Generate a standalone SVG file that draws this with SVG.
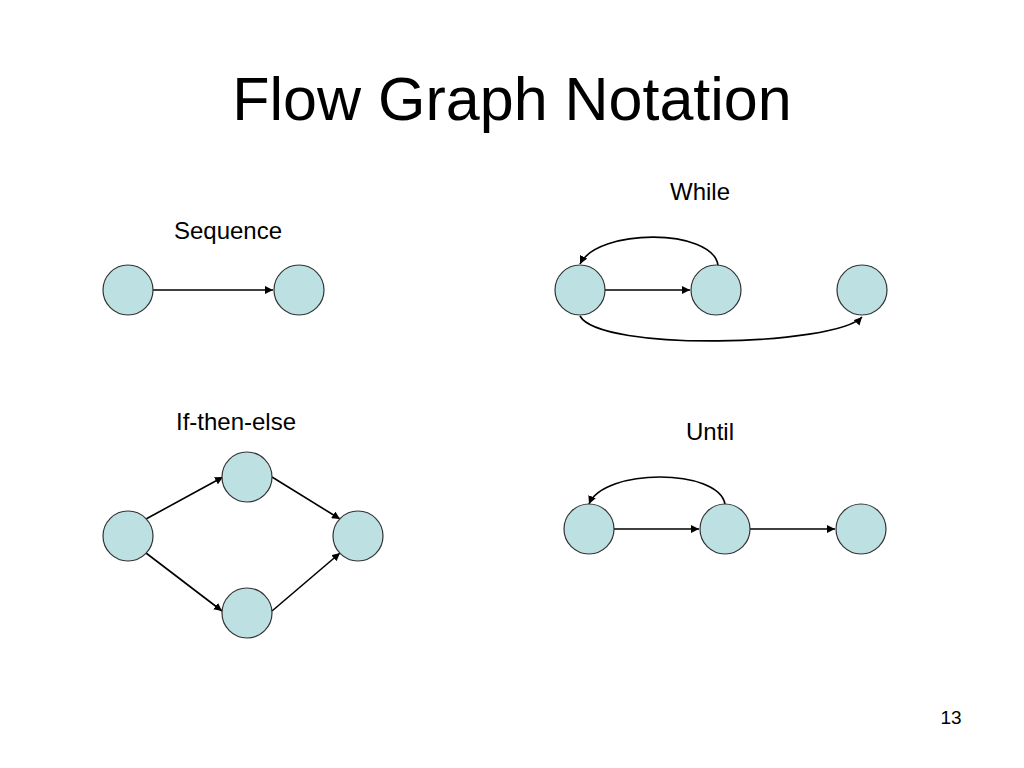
<svg xmlns="http://www.w3.org/2000/svg" width="1024" height="768" viewBox="0 0 1024 768">
<defs>
<marker id="a" viewBox="0 0 10 10" refX="10" refY="5" markerWidth="8" markerHeight="8" markerUnits="userSpaceOnUse" orient="auto"><path d="M0,0L10,5L0,10z" fill="#000"/></marker>
<style>
.n{fill:#bde0e2;stroke:#333;stroke-width:1.2}
.e{fill:none;stroke:#000;stroke-width:1.6;marker-end:url(#a)}
text{font-family:"Liberation Sans",Arial,sans-serif;fill:#000}
.l{font-size:24px}
</style>
</defs>
<rect width="1024" height="768" fill="#fff"/>
<text x="512" y="120" font-size="61" text-anchor="middle">Flow Graph Notation</text>
<text class="l" x="228" y="239" text-anchor="middle">Sequence</text>
<text class="l" x="700" y="200" text-anchor="middle">While</text>
<text class="l" x="236" y="430" text-anchor="middle">If-then-else</text>
<text class="l" x="710" y="440" text-anchor="middle">Until</text>
<text x="951" y="724" font-size="19" text-anchor="middle">13</text>
<g id="connectors">
<path class="e" d="M153,290H273"/>
<path class="e" d="M605,290H690"/>
<path class="e" d="M718,265C712,228 598,228 580,264"/>
<path class="e" d="M580,316C600,352 835,346 862,317"/>
<path class="e" d="M146,519L223,477"/>
<path class="e" d="M272,477L340,519"/>
<path class="e" d="M146,553L222,611"/>
<path class="e" d="M272,611L340,553"/>
<path class="e" d="M614,529H699"/>
<path class="e" d="M750,529H835"/>
<path class="e" d="M725,504C718,468 604,468 589,504"/>
</g>
<g id="seq1"><circle class="n" cx="128" cy="290" r="25"/></g>
<g id="seq2"><circle class="n" cx="299" cy="290" r="25"/></g>
<g id="wh1"><circle class="n" cx="580" cy="290" r="25"/></g>
<g id="wh2"><circle class="n" cx="716" cy="290" r="25"/></g>
<g id="wh3"><circle class="n" cx="862" cy="290" r="25"/></g>
<g id="if1"><circle class="n" cx="128" cy="536" r="25"/></g>
<g id="if2"><circle class="n" cx="247" cy="477" r="25"/></g>
<g id="if3"><circle class="n" cx="358" cy="536" r="25"/></g>
<g id="if4"><circle class="n" cx="247" cy="613" r="25"/></g>
<g id="un1"><circle class="n" cx="589" cy="529" r="25"/></g>
<g id="un2"><circle class="n" cx="725" cy="529" r="25"/></g>
<g id="un3"><circle class="n" cx="861" cy="529" r="25"/></g>
</svg>
